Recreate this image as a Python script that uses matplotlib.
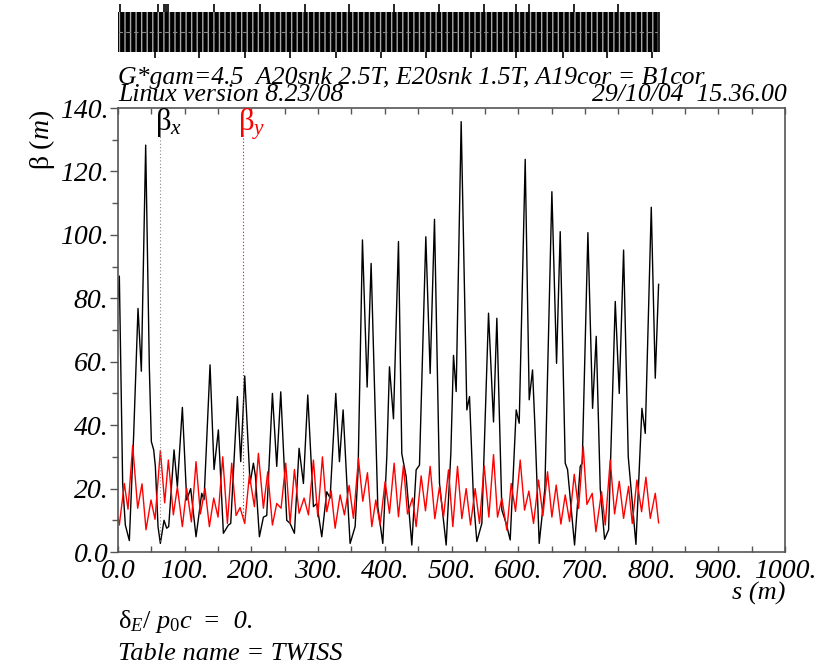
import numpy as np
import matplotlib
matplotlib.use("Agg")
import matplotlib.pyplot as plt
from matplotlib.patches import Rectangle
from matplotlib.ticker import MultipleLocator, FixedLocator, FixedFormatter

plt.rcParams['font.family'] = ['Liberation Serif', 'DejaVu Serif']
plt.rcParams['mathtext.fontset'] = 'custom'
plt.rcParams['mathtext.rm'] = 'Liberation Serif'
plt.rcParams['mathtext.it'] = 'Liberation Serif:italic'
plt.rcParams['hatch.linewidth'] = 1.0

# beta_x (black): s [m], beta [m]
sx = [0, 2, 7, 11, 17, 23.5, 30, 35, 41.5, 47, 50, 53.5, 56, 60, 63.5,
      69, 73, 76, 84, 89, 96.5, 103, 109, 117, 125.5, 129, 138, 144, 150.5,
      158, 165.5, 169, 179, 184, 190, 198, 203, 206, 212, 218, 223, 231.5,
      238, 244, 253, 258, 264.5, 271.5, 278, 284.5, 293, 298, 305.5, 313,
      318, 326.5, 332, 337.5, 345.5, 348, 355.5, 360, 366.5, 373.5, 379.5,
      389.5, 397, 403, 407, 413, 420.5, 425.5, 432, 440.5, 447, 452, 461.5,
      468, 474.5, 482, 492, 499, 503, 507, 514.5, 523, 527, 533, 538, 545.5,
      555.5, 563, 568, 575.5, 582, 588, 597, 601.5, 610.5, 616.5, 621.5,
      625, 631.5, 640, 650.5, 657.5, 663, 670.5, 674, 684.5, 693, 696,
      704.5, 711.5, 717, 723, 729.5, 735.5, 745.5, 751.5, 758, 765, 776.5,
      785.5, 790.5, 799.5, 805.5, 810.5]
betx = [80, 87, 21.6, 8.5, 3.6, 37, 76.8, 57, 128.3, 58, 34.8, 32.2, 27, 8, 2.7,
        10, 7.5, 8, 32.2, 20.6, 45.6, 16.4, 20, 4.8, 18.5, 16.5, 59, 26, 38.5,
        5.9, 8.5, 9, 49, 28.5, 55.5, 21.6, 28, 24, 4.8, 11, 11.5, 50,
        27, 50.5, 10, 9, 5.9, 32.7, 21.6, 49.5, 14.3, 15.3, 4.8, 19,
        17, 50, 28.5, 44.8, 12, 2.7, 8, 26, 98.4, 52, 91,
        14.3, 2.7, 30, 58.4, 42, 97.9, 31, 23.8, 2.2, 25.9, 27.4, 99.4,
        56.3, 104.9, 21.6, 2.2, 31, 62, 50.6, 135.7, 44.8, 49, 16.4, 3.3, 9,
        75.3, 41, 73.7, 13.2, 9, 3.8, 44.8, 40.6, 123.8, 48, 57.4,
        40, 2.7, 20, 113.6, 59.5, 101, 28, 26, 2.2, 27, 28,
        100.7, 45.3, 68, 20, 4, 7, 79, 50, 95.2, 30, 2.4,
        45.3, 37.4, 108.7, 54.8, 84.4]

# beta_y (red)
sy = [0, 2, 9.5, 15, 22, 29.5, 36, 42, 49.5, 55.5, 63.5, 70, 75.5, 83, 89,
      96.5, 103, 110, 117, 123.5, 130.5, 137, 143.5, 150, 157, 164, 170.5,
      177, 183, 190, 197, 204.5, 210.5, 218, 224.5, 231.5, 238, 244.5, 251.5,
      258, 264.5, 271.5, 279, 285.5, 293, 299.5, 306.5, 313, 319.5, 325.5,
      333, 339.5, 346.5, 353, 360.5, 367, 374, 380.5, 386.5, 393, 400.5, 407,
      414, 420.5, 428, 434, 441.5, 447, 454.5, 461, 468, 475, 482, 488,
      495.5, 502, 509, 515.5, 522, 528.5, 535.5, 542, 549, 556, 563, 569,
      575.5, 583, 589.5, 596, 603, 609.5, 616, 623, 630.5, 637, 644, 650.5,
      657, 664, 670.5, 677, 684, 690.5, 697.5, 703, 711, 716.5, 725, 730.5,
      738, 744.5, 751.5, 758, 765.5, 771, 778, 785, 791.5, 798, 805.5, 810.5]
bety = [11, 8.5, 21.6, 13.5, 33.6, 13.8, 21.5, 7, 16.4, 10.3, 32, 15.5, 29, 11.7, 20.5,
        8, 20, 9.5, 28.5, 12, 20, 8, 17, 11, 30, 9, 28,
        11.5, 14, 9, 24.3, 14.3, 31.1, 13.8, 25.3, 8.5, 15.3, 13.8, 28,
        9, 26, 12.2, 17, 11.7, 29, 11.1, 30, 12.7, 19.3, 7.5,
        18, 11.7, 21, 10.6, 29.5, 16, 25, 8, 16.4, 8.5, 22.2, 12.2,
        28, 11.1, 27.4, 12, 17, 8, 24, 13, 27, 10.5, 20.6, 11,
        25.9, 8, 27, 10.5, 20, 8.5, 20, 9, 27.2, 11, 30.7, 11,
        16.9, 6.9, 21.6, 12.8, 29, 13.2, 19.2, 9, 22.7, 11.4, 25.3, 11,
        21.1, 8.8, 18, 9.6, 24.5, 13.7, 33.2, 15, 18.5, 6.4, 19, 8.5,
        29, 12, 22.3, 10.6, 20.7, 9, 22.7, 12.7, 23.6, 10.6, 18.5, 9.2]

# machine layout for the element strip
ring_length = 810.5
marks_up = [3.3, 60.3, 68.3, 72.3, 75, 144, 213, 280, 347, 414,
            482, 548, 596, 616, 683, 750]
marks_down = [55, 122, 191, 258, 327, 394, 462, 529, 596, 666.5, 733.5, 800]

xticks = [0, 100, 200, 300, 400, 500, 600, 700, 800, 900, 1000]
xlabels = ['0.0', '100.', '200.', '300.', '400.', '500.', '600.', '700.', '800.', '900.', '1000.']
yticks = [0, 20, 40, 60, 80, 100, 120, 140]
ylabels = ['0.0', '20.', '40.', '60.', '80.', '100.', '120.', '140.']

W, H = 816, 665
fig = plt.figure(figsize=(W / 100, H / 100), dpi=100)
L, R, T, B = 118, 785, 108, 552
ax = fig.add_axes([L / W, 1 - B / H, (R - L) / W, (B - T) / H])

spine_c = '#555555'
ax.plot(sx, betx, color='black', lw=1.0)
ax.plot(sy, bety, color='red', lw=1.0)
ax.set_xlim(0, 1000)
ax.set_ylim(0, 140)

for side in ['left', 'right', 'top', 'bottom']:
    ax.spines[side].set_color(spine_c)
    ax.spines[side].set_linewidth(1.2)

ax.xaxis.set_major_locator(FixedLocator(xticks))
ax.xaxis.set_major_formatter(FixedFormatter(xlabels))
ax.xaxis.set_minor_locator(MultipleLocator(50))
ax.yaxis.set_major_locator(FixedLocator(yticks))
ax.yaxis.set_major_formatter(FixedFormatter(ylabels))
ax.yaxis.set_minor_locator(MultipleLocator(10))
ax.tick_params(axis='x', which='both', direction='in', top=True, bottom=True,
               length=4, width=1.0, color=spine_c, labelsize=20, pad=5)
ax.tick_params(axis='y', which='major', direction='out', left=True, right=False,
               length=6, width=1.0, color=spine_c, labelsize=20, pad=1)
ax.tick_params(axis='y', which='minor', direction='out', left=True, right=False,
               length=4, width=1.0, color=spine_c)
for lab in ax.get_xticklabels() + ax.get_yticklabels():
    lab.set_fontstyle('italic')

# curve labels with dotted guides
for s0, txt, col, lc in [(63, r'$\mathrm{\beta}_{\mathit{x}}$', 'black', '#888888'),
                         (188, r'$\mathrm{\beta}_{\mathit{y}}$', 'red', 'red')]:
    src = (sx, betx) if col == 'black' else (sy, bety)
    yend = np.interp(s0, src[0], src[1])
    ax.plot([s0, s0], [yend, 131.5], color=lc, lw=0.8, ls=(0, (1, 2)))
    ax.text(s0 - 8, 133, txt, color=col, fontsize=22, ha='left', va='baseline')

# element strip
axe = fig.add_axes([L / W, 1 - 62 / H, (R - L) / W, 60 / H])
axe.set_xlim(0, 1000)
axe.set_ylim(-30, 30)
axe.axis('off')
axe.add_patch(Rectangle((0, -20), ring_length, 40, facecolor='black', edgecolor='none'))
axe.add_patch(Rectangle((0, -20), ring_length, 40, facecolor='none', edgecolor='#a8a8a8',
                        lw=0, hatch='|||'))
axe.axhline(0, xmax=ring_length / 1000, color='#888888', lw=0.8, ls=(0, (4, 3)))
axe.vlines(marks_up, 20, 28, color='black', lw=1.2)
axe.vlines(marks_down, -26, -20, color='black', lw=1.2)
axe.vlines([0, ring_length], -20, 20, color='black', lw=1.2)

# texts
fig.text(L / W, 1 - 84 / H, 'G*gam=4.5  A20snk 2.5T, E20snk 1.5T, A19cor = B1cor',
         fontsize=18.5, style='italic', ha='left', va='baseline')
fig.text(L / W, 1 - 101 / H, 'Linux version 8.23/08', fontsize=18.5, style='italic',
         ha='left', va='baseline')
fig.text(787 / W, 1 - 101 / H, '29/10/04  15.36.00', fontsize=18.5, style='italic',
         ha='right', va='baseline')
fig.text(42 / W, 1 - 140 / H, r'$\mathrm{\beta}\ \mathit{(m)}$', fontsize=20, rotation=90,
         ha='center', va='center')
fig.text(785 / W, 1 - 600 / H, 's (m)', fontsize=19, style='italic', ha='right', va='baseline')

t1 = fig.text(L / W, 1 - 628 / H, r'$\mathrm{\delta}_{\mathit{E}}\mathit{/\ p}_{0}\mathit{c}$',
              fontsize=19, ha='left', va='baseline')
fig.canvas.draw()
x1 = t1.get_window_extent().x1
fig.text((x1 + 3) / W, 1 - 628 / H, ' =  0.', fontsize=19, style='italic',
         ha='left', va='baseline')
fig.text(L / W, 1 - 660 / H, 'Table name = TWISS', fontsize=19, style='italic',
         ha='left', va='baseline')

fig.savefig('out.png', dpi=100)
